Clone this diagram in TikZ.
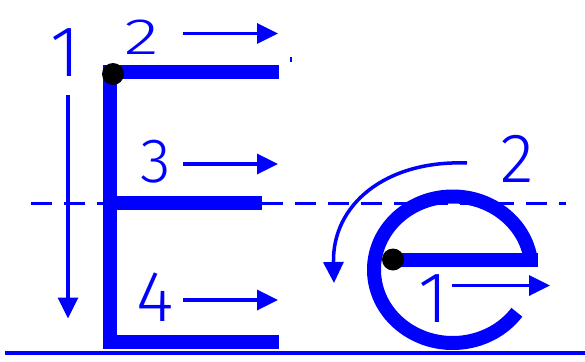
\documentclass[tikz,border=0pt]{standalone}
\usepackage{fontspec}
\newfontfamily\digitfont{Fira Sans}[UprightFont={* Light}]
\usetikzlibrary{arrows.meta}
\begin{document}
\begin{tikzpicture}[x=1pt, y=-1pt,
	letter/.style={draw=blue, line width=14pt},
	guide/.style={draw=blue, line width=3.5pt, -{Triangle[length=21pt, width=20pt]}},
	digit/.style={text=blue, inner sep=0pt, font=\digitfont\fontsize{72}{72}\selectfont},
	startdot/.style={circle, fill=black, minimum size=22pt, inner sep=0pt}]
	\useasboundingbox (0,0) rectangle (585,361);
	% base line and mid line
	\draw[blue, line width=4.5pt] (5,353) -- (585,353);
	\draw[blue, line width=3pt, dash pattern=on 21pt off 12pt] (31,203) -- (566,203);
	% capital E
	\coordinate (Etop) at (110,71.5);
	\draw[letter, line join=miter] (279,71.5) -- (Etop) -- (110,341.5) -- (279,341.5);
	\draw[letter] (110,202.5) -- (262,202.5);
	\node[startdot] (Edot) at (113,74) {};
	\fill[blue] (290,56.5) rectangle (292,61.5);
	% small e
	\coordinate (ecenter) at (452.75,269.75);
	\coordinate (estart) at (393,259.5);
	\coordinate (ebarend) at (538,259.5);
	\draw[letter] (estart) -- (ebarend);
	\draw[letter] (ecenter) ++(-7:78.75 and 73.25) arc[start angle=-7, end angle=-324.5, x radius=78.75, y radius=73.25];
	\node[startdot] (edot) at (estart) {};
	% stroke order arrows
	\coordinate (a1s) at (68,95);    \coordinate (a1e) at (68,318.5);
	\coordinate (a2s) at (183,33.5); \coordinate (a2e) at (278,33.5);
	\coordinate (a3s) at (183,164);  \coordinate (a3e) at (278,164);
	\coordinate (a4s) at (183,300);  \coordinate (a4e) at (278,300);
	\coordinate (b1s) at (452,285.5); \coordinate (b1e) at (550,285.5);
	\coordinate (b2s) at (467,163);  \coordinate (b2e) at (334,283);
	\draw[guide] (a1s) -- (a1e);
	\draw[guide] (a2s) -- (a2e);
	\draw[guide] (a3s) -- (a3e);
	\draw[guide] (a4s) -- (a4e);
	\draw[guide] (b1s) -- (b1e);
	\draw[guide] (b2s) .. controls (385,160) and (332,205) .. (b2e);
	% numbers
	\node[digit] (n1) at (65,53) {1};
	\node[digit, yscale=0.71, transform shape] (n2) at (141.5,37.5) {2};
	\node[digit, scale=0.87, transform shape] (n3) at (156,161.5) {3};
	\node[digit] (n4) at (155.5,297) {4};
	\node[digit] (m1) at (433.5,299) {1};
	\node[digit, scale=0.97, transform shape] (m2) at (517,159) {2};
\end{tikzpicture}
\end{document}
